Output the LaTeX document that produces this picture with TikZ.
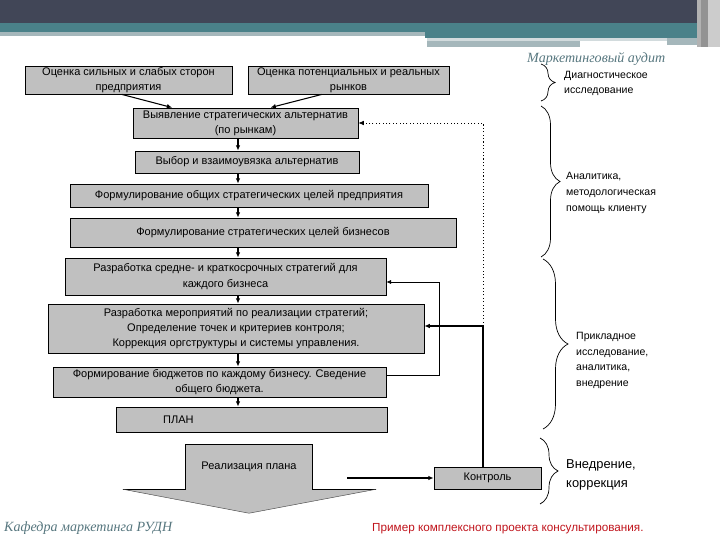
\documentclass[tikz,border=0pt]{standalone}
\usepackage{fontspec}
\setmainfont{Liberation Sans}
\newfontfamily\kafedrafont{Liberation Serif}
\usetikzlibrary{arrows.meta, decorations.pathreplacing}

\definecolor{boxgray}{HTML}{C0C0C0}
\definecolor{hdrdark}{HTML}{414657}
\definecolor{hdrteal}{HTML}{4A8189}
\definecolor{hdrlight}{HTML}{A5B7BB}
\definecolor{titlegray}{HTML}{56767E}
\definecolor{footred}{HTML}{C0141C}

\begin{document}
\begin{tikzpicture}[
    x=0.03cm, y=-0.03cm,
    every node/.style={font=\fontsize{9.4}{13}\selectfont},
    stage/.style={draw,fill=boxgray,line width=0.7pt,inner sep=1pt,align=center},
    note/.style={anchor=west,align=left,inner sep=0pt,
                 font=\fontsize{9}{13.5}\selectfont},
    arr/.style={-{Latex[length=1.6mm,width=1.4mm]},line width=0.9pt},
    thinarr/.style={-{Latex[length=1.4mm,width=1.2mm]},line width=0.45pt},
    brc/.style={decorate,decoration={brace,amplitude=#1},line width=0.6pt}
]
\useasboundingbox (0,0) rectangle (720,540);

% header
\fill[hdrdark] (0,0) rectangle (720,23);
\fill[hdrteal] (0,23) rectangle (720,32);
\fill[hdrlight] (0,32) rectangle (425,36);
\fill[hdrteal] (425,32) rectangle (720,38);
\fill[hdrlight!50] (427,38) rectangle (667,41);
\fill[hdrlight] (427,41) rectangle (580,47);
\fill[hdrlight] (667,38) rectangle (697,45);
\fill[gray!60] (697,0) rectangle (701,47);
\fill[gray!85] (701,0) rectangle (708,47);
\fill[gray!40] (708,0) rectangle (720,47);

\node[stage,minimum width=6.21cm,minimum height=0.84cm] (swot) at (128.5,80)
    {Оценка сильных и слабых сторон\\предприятия};
\node[stage,minimum width=6.03cm,minimum height=0.84cm] (mkts) at (348.5,80)
    {Оценка потенциальных и реальных\\рынков};
\node[stage,minimum width=6.75cm,minimum height=0.90cm] (alt) at (245.5,123)
    {Выявление стратегических альтернатив\\(по рынкам)};
\node[stage,minimum width=6.72cm,minimum height=0.66cm] (choice) at (247,162)
    {Выбор и взаимоувязка альтернатив};
\node[stage,minimum width=10.74cm,minimum height=0.69cm] (goals) at (249,195.5)
    {Формулирование общих стратегических целей предприятия};
\node[stage,minimum width=11.58cm,minimum height=0.87cm] (bgoals) at (263,232.5)
    {Формулирование стратегических целей бизнесов};
\node[stage,minimum width=9.63cm,minimum height=1.11cm] (strat) at (225.5,276.5)
    {Разработка средне- и краткосрочных стратегий для\\каждого бизнеса};
\node[stage,minimum width=11.28cm,minimum height=1.47cm] (meas) at (236,328.5)
    {Разработка мероприятий по реализации стратегий;\\Определение точек и критериев контроля;\\Коррекция оргструктуры и системы управления.};
\node[stage,minimum width=9.99cm,minimum height=0.90cm] (budget) at (219.5,382)
    {Формирование бюджетов по каждому бизнесу. Сведение\\общего бюджета.};
\node[stage,minimum width=8.13cm,minimum height=0.75cm,text width=7.9cm,
      align=left] (plan) at (251.5,419.5) {\hspace{1.3cm}ПЛАН};

% block arrow
\node[fill=boxgray,minimum width=3.78cm,minimum height=1.32cm] (real) at (249,467)
    {Реализация плана};
\fill[boxgray] ([xshift=-1.89cm]real.south west) -- ([xshift=1.92cm]real.south east)
    -- ([yshift=-0.72cm]real.south) -- cycle;
\draw[line width=0.7pt] ([xshift=-1.89cm]real.south west) -- (real.south west)
    -- (real.north west) -- (real.north east) -- (real.south east)
    -- ([xshift=1.92cm]real.south east);
\draw[gray!60!black,line width=0.4pt] ([xshift=-1.89cm]real.south west)
    -- ([yshift=-0.72cm]real.south) -- ([xshift=1.92cm]real.south east);

\node[stage,minimum width=3.21cm,minimum height=0.66cm] (ktrl) at (487.5,478) {Контроль};

\coordinate (spine) at (238,0);
\coordinate (turn) at (483,326);
\coordinate (loop) at (439,0);

\draw[arr] ([xshift=-0.2cm]swot.south) -- ([xshift=-2.2cm]alt.north);
\draw[arr] ([xshift=-0.8cm]mkts.south) -- ([xshift=0.75cm]alt.north);
\draw[arr] (alt.south -| spine) -- (choice.north -| spine);
\draw[arr] (choice.south -| spine) -- (goals.north -| spine);
\draw[arr] (goals.south -| spine) -- (bgoals.north -| spine);
\draw[arr] (bgoals.south -| spine) -- (strat.north -| spine);
\draw[arr] (strat.south -| spine) -- (meas.north -| spine);
\draw[arr] (meas.south -| spine) -- (budget.north -| spine);
\draw[arr] (budget.south -| spine) -- (plan.north -| spine);
\draw[arr] ([xshift=1.05cm]real.east |- ktrl.west) -- (ktrl.west);
\draw[arr] (ktrl.north -| turn) -- (turn) -- (turn -| meas.east);
\draw[arr,dotted,line width=0.6pt] (turn) -- (turn |- alt.east) -- (alt.east);
\draw[thinarr] ([yshift=0.21cm]budget.east) -- ([yshift=0.21cm]budget.east -| loop)
    -- ([yshift=-0.165cm]strat.east -| loop) -- ([yshift=-0.165cm]strat.east);

% braces
\draw[brc=0.42cm] (541,64) -- (541,101);
\draw[brc=0.57cm] (541,106) -- (541,257);
\draw[brc=0.75cm] (543,259) -- (543,429);
\draw[brc=0.54cm] (540,438) -- (540,504);

\node[anchor=west,inner sep=0pt,text=titlegray,
      font=\kafedrafont\itshape\fontsize{12}{14}\selectfont] (audit) at (527,59)
    {Маркетинговый аудит};
\node[note] (diag) at (564,83.5) {Диагностическое\\исследование};
\node[note] (anal) at (566,193) {Аналитика,\\методологическая\\помощь клиенту};
\node[note] (appl) at (576,360.5) {Прикладное\\исследование,\\аналитика,\\внедрение};
\node[note,font=\fontsize{11}{16}\selectfont] (impl) at (566,475) {Внедрение,\\коррекция};

\node[anchor=west,inner sep=0pt,text=titlegray,
      font=\kafedrafont\itshape\fontsize{12}{14}\selectfont] (dept) at (4,528)
    {Кафедра маркетинга РУДН};
\node[anchor=west,inner sep=0pt,text=footred,font=\fontsize{10}{12}\selectfont]
    (example) at (372,529) {Пример комплексного проекта консультирования.};
\end{tikzpicture}
\end{document}
